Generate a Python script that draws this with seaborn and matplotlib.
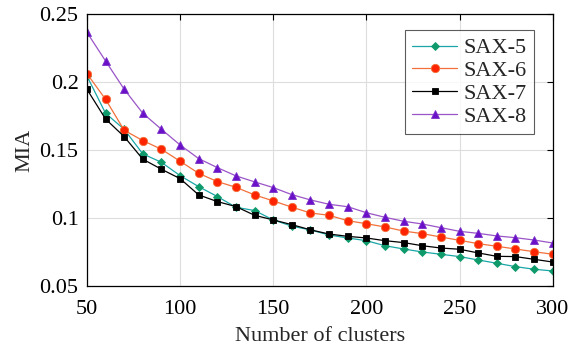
import numpy as np
import pandas as pd
import matplotlib
matplotlib.use("Agg")
import matplotlib.pyplot as plt
import seaborn as sns

# Data
clusters = list(range(50, 301, 10))

sax5 = [0.2046, 0.1771, 0.1653, 0.1472, 0.1410, 0.1312, 0.1231, 0.1158, 0.1079, 0.1055,
        0.0986, 0.0940, 0.0912, 0.0875, 0.0853, 0.0833, 0.0796, 0.0772, 0.0750, 0.0733,
        0.0716, 0.0691, 0.0667, 0.0642, 0.0623, 0.0610]
sax6 = [0.2063, 0.1874, 0.1646, 0.1570, 0.1506, 0.1418, 0.1329, 0.1268, 0.1226, 0.1170,
        0.1126, 0.1080, 0.1037, 0.1020, 0.0980, 0.0958, 0.0934, 0.0904, 0.0885, 0.0860,
        0.0836, 0.0811, 0.0792, 0.0772, 0.0752, 0.0733]
sax7 = [0.1948, 0.1729, 0.1599, 0.1433, 0.1359, 0.1290, 0.1170, 0.1121, 0.1084, 0.1020,
        0.0986, 0.0951, 0.0913, 0.0882, 0.0865, 0.0853, 0.0833, 0.0819, 0.0796, 0.0779,
        0.0770, 0.0743, 0.0718, 0.0716, 0.0696, 0.0676]
sax8 = [0.2367, 0.2156, 0.1948, 0.1771, 0.1653, 0.1538, 0.1437, 0.1371, 0.1310, 0.1266,
        0.1224, 0.1172, 0.1133, 0.1101, 0.1083, 0.1039, 0.1005, 0.0976, 0.0956, 0.0929,
        0.0902, 0.0887, 0.0868, 0.0855, 0.0838, 0.0816]

series_names = ["SAX-5", "SAX-6", "SAX-7", "SAX-8"]
series_values = [sax5, sax6, sax7, sax8]

df = pd.DataFrame({
    "clusters": clusters * len(series_names),
    "MIA": sum(series_values, []),
    "method": np.repeat(series_names, len(clusters)),
})

sns.set_style("whitegrid")
plt.rcParams["font.family"] = ["Liberation Serif", "DejaVu Serif"]

# line colour, marker face, marker edge, marker, size
styles = {
    "SAX-5": ("#1aa6a6", "#0f9a6c", "#0f9a6c", "D", 4.5),
    "SAX-6": ("#f2703a", "#ff2400", "#f2703a", "o", 6),
    "SAX-7": ("#000000", "#000000", "#000000", "s", 5),
    "SAX-8": ("#9a55c8", "#6a10c8", "#7a30c8", "^", 6),
}

fig = plt.figure(figsize=(5.68, 3.47), dpi=100)
ax = fig.add_axes([0.153, 0.176, 0.82, 0.783])

for name in series_names:
    line_c, face_c, edge_c, mk, ms = styles[name]
    sns.lineplot(data=df[df["method"] == name], x="clusters", y="MIA", ax=ax,
                 color=line_c, linewidth=0.9, marker=mk, markersize=ms,
                 markerfacecolor=face_c, markeredgecolor=edge_c, markeredgewidth=0.6,
                 label=name)

ax.set_xlim(50, 300)
ax.set_ylim(0.05, 0.25)
ax.set_xticks([50, 100, 150, 200, 250, 300])
ax.set_yticks([0.05, 0.1, 0.15, 0.2, 0.25])
ax.set_yticklabels(["0.05", "0.1", "0.15", "0.2", "0.25"])
ax.set_xlabel("Number of clusters", fontsize=16, labelpad=6)
ax.set_ylabel("MIA", fontsize=16, labelpad=4)
ax.tick_params(axis="both", labelsize=16, direction="in", length=4, width=0.8,
               top=True, right=True, colors="black")
ax.tick_params(axis="x", pad=10)
ax.tick_params(axis="y", pad=6)
ax.grid(True, color="#dddddd", linewidth=0.8)
for sp in ax.spines.values():
    sp.set_color("black")
    sp.set_linewidth(0.9)

leg = ax.legend(loc="upper right", bbox_to_anchor=(0.961, 0.942), borderaxespad=0,
                fontsize=16, frameon=True, fancybox=False, handlelength=2.0,
                handletextpad=0.3, labelspacing=0.1, borderpad=0.35)
leg.get_frame().set_edgecolor("#333333")
leg.get_frame().set_linewidth(0.8)

fig.savefig("out.png", dpi=100)
